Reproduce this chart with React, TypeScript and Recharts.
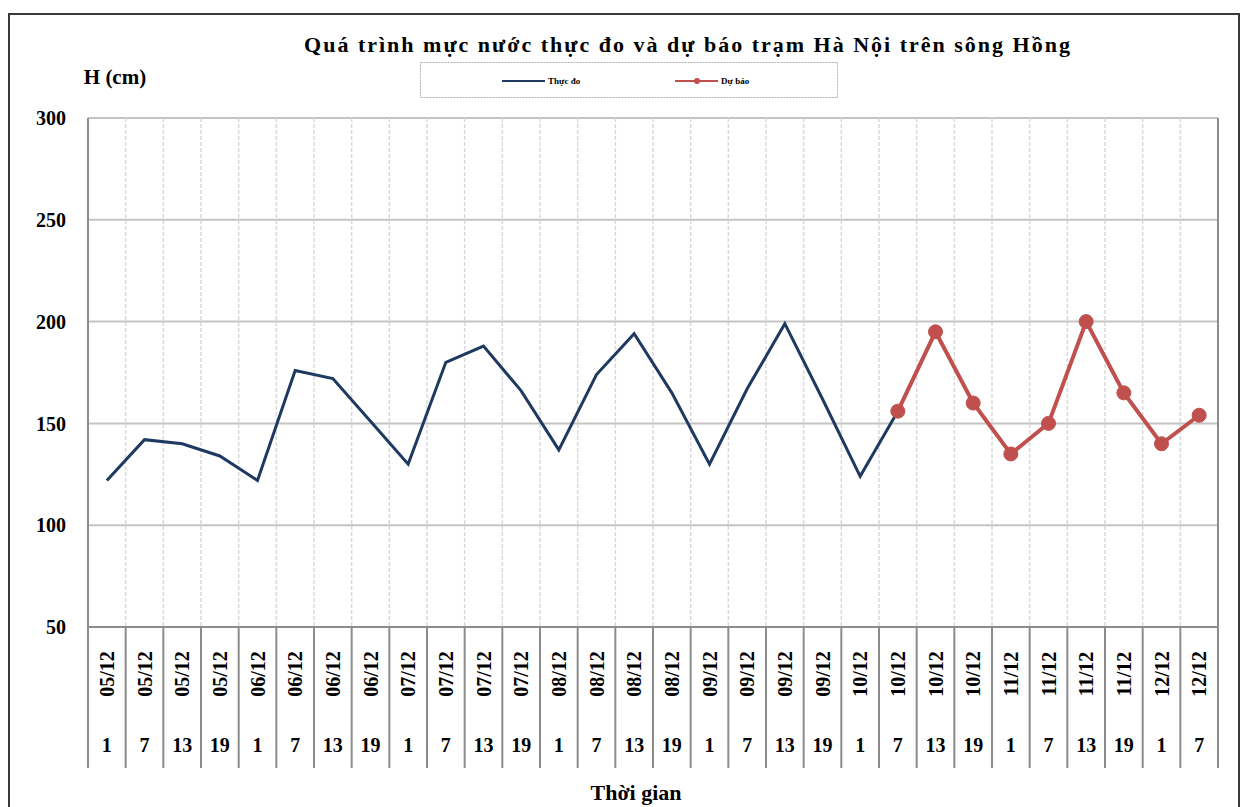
import React from 'react';
import { LineChart, Line, XAxis, YAxis, CartesianGrid, ReferenceLine, Customized } from 'recharts';

const dates = [
  '05/12', '05/12', '05/12', '05/12',
  '06/12', '06/12', '06/12', '06/12',
  '07/12', '07/12', '07/12', '07/12',
  '08/12', '08/12', '08/12', '08/12',
  '09/12', '09/12', '09/12', '09/12',
  '10/12', '10/12', '10/12', '10/12',
  '11/12', '11/12', '11/12', '11/12',
  '12/12', '12/12',
];
const hours = [
  '1', '7', '13', '19', '1', '7', '13', '19', '1', '7', '13', '19',
  '1', '7', '13', '19', '1', '7', '13', '19', '1', '7', '13', '19',
  '1', '7', '13', '19', '1', '7',
];
const measured = [122, 142, 140, 134, 122, 176, 172, 151, 130, 180, 188, 166, 137, 174, 194, 165, 130, 167, 199, 162, 124, 156];
const forecastStart = 21;
const forecast = [156, 195, 160, 135, 150, 200, 165, 140, 154];
const yTicks = [50, 100, 150, 200, 250, 300];

const TITLE = 'Quá trình mực nước thực đo và dự báo trạm Hà Nội trên sông Hồng';
const Y_LABEL = 'H (cm)';
const X_LABEL = 'Thời gian';
const LEGEND_MEASURED = 'Thực đo';
const LEGEND_FORECAST = 'Dự báo';

const data = dates.map((d, i) => ({
  idx: i,
  measured: i < measured.length ? measured[i] : null,
  forecast: i >= forecastStart && i - forecastStart < forecast.length ? forecast[i - forecastStart] : null,
}));

const FONT = '"Liberation Serif", "Times New Roman", serif';
const BLUE = '#1F3A60';
const RED = '#C0504D';
const AXIS_GREY = '#8C8C8C';

const XTick = (props: any) => {
  const { x, y, payload, width } = props;
  const i = payload.value as number;
  const half = payload.offset && payload.offset > 0 ? payload.offset : width / dates.length / 2;
  const lineBottom = y + 141;
  return (
    <g>
      <line x1={x - half} x2={x - half} y1={y} y2={lineBottom} stroke={AXIS_GREY} strokeWidth={2} />
      {i === dates.length - 1 && (
        <line x1={x + half} x2={x + half} y1={y} y2={lineBottom} stroke={AXIS_GREY} strokeWidth={2} />
      )}
      <text
        x={x}
        y={y + 47}
        transform={`rotate(-90, ${x}, ${y + 47})`}
        textAnchor="middle"
        dominantBaseline="central"
        fontFamily={FONT}
        fontWeight="bold"
        fontSize={20}
        fill="#000"
      >
        {dates[i]}
      </text>
      <text
        x={x}
        y={y + 118}
        textAnchor="middle"
        dominantBaseline="central"
        fontFamily={FONT}
        fontWeight="bold"
        fontSize={20}
        fill="#000"
      >
        {hours[i]}
      </text>
    </g>
  );
};

const Decor = () => (
  <g>
    <rect x={9} y={14} width={1230} height={820} fill="none" stroke="#3a3a3a" strokeWidth={2} />
    <text x={688} y={44} textAnchor="middle" dominantBaseline="central" fontFamily={FONT} fontWeight="bold" fontSize={22} letterSpacing={2} fill="#000">
      {TITLE}
    </text>
    <rect x={420.5} y={62.5} width={417} height={35} fill="#fff" stroke="#b0b0b0" strokeDasharray="2 1" />
    <line x1={502} x2={545} y1={81} y2={81} stroke={BLUE} strokeWidth={2} />
    <text x={548} y={81} dominantBaseline="central" fontFamily={FONT} fontSize={9} fontWeight="bold" fill="#000">{LEGEND_MEASURED}</text>
    <line x1={675} x2={718} y1={81} y2={81} stroke={RED} strokeWidth={2} />
    <circle cx={697} cy={81} r={3} fill={RED} />
    <text x={721} y={81} dominantBaseline="central" fontFamily={FONT} fontSize={9} fontWeight="bold" fill="#000">{LEGEND_FORECAST}</text>
    <text x={115} y={77} textAnchor="middle" dominantBaseline="central" fontFamily={FONT} fontWeight="bold" fontSize={21} fill="#000">
      {Y_LABEL}
    </text>
    <text x={636} y={792} textAnchor="middle" dominantBaseline="central" fontFamily={FONT} fontWeight="bold" fontSize={22} fill="#000">
      {X_LABEL}
    </text>
  </g>
);

const verticalGen = (props: any) => {
  const off = props.offset || {};
  const left = off.left ?? 88;
  const w = off.width ?? 1130;
  const n = dates.length;
  const out: number[] = [];
  for (let k = 1; k < n; k++) out.push(left + (k * w) / n);
  return out;
};

export default function App() {
  return (
    <div style={{ position: 'absolute', left: 0, top: 0, width: 1243, height: 807, background: '#fff' }}>
      <LineChart width={1243} height={807} data={data} margin={{ top: 118, right: 25, bottom: 0, left: 28 }}>
        <CartesianGrid vertical={false} stroke="#C4C4C4" strokeWidth={2} />
        <CartesianGrid horizontal={false} stroke="#D9D9D9" strokeWidth={1.5} strokeDasharray="4 2" verticalCoordinatesGenerator={verticalGen} />
        <XAxis
          dataKey="idx"
          type="category"
          scale="band"
          interval={0}
          height={180}
          tickLine={false}
          tickSize={0}
          tickMargin={0}
          axisLine={{ stroke: AXIS_GREY, strokeWidth: 2 }}
          tick={<XTick />}
        />
        <YAxis
          domain={[50, 300]}
          ticks={yTicks}
          width={60}
          tickLine={false}
          tickSize={0}
          tickMargin={22}
          axisLine={{ stroke: AXIS_GREY, strokeWidth: 2 }}
          tick={{ fontFamily: FONT, fontWeight: 'bold', fontSize: 20, fill: '#000' }}
        />
        <ReferenceLine x={dates.length - 1} position="end" stroke={AXIS_GREY} strokeWidth={2} />
        <Line
          dataKey="measured"
          stroke={BLUE}
          strokeWidth={3}
          dot={false}
          activeDot={false}
          connectNulls={false}
          isAnimationActive={false}
        />
        <Line
          dataKey="forecast"
          stroke={RED}
          strokeWidth={4}
          dot={{ r: 7, fill: RED, stroke: RED, strokeWidth: 1 }}
          activeDot={false}
          connectNulls={false}
          isAnimationActive={false}
        />
        <Customized component={Decor} />
      </LineChart>
    </div>
  );
}
